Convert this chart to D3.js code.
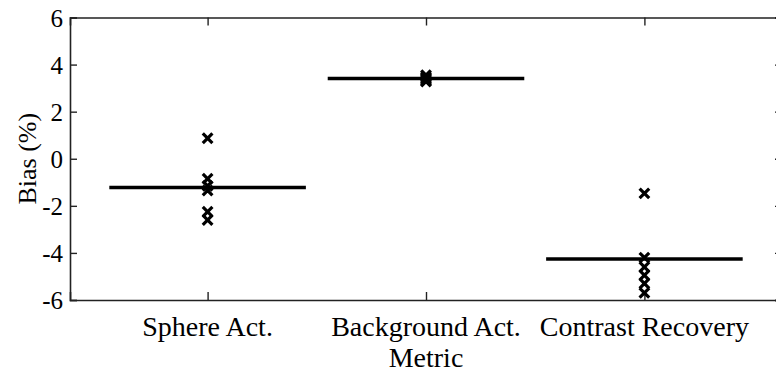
<!DOCTYPE html>
<html>
<head>
<meta charset="utf-8">
<script src="https://cdn.jsdelivr.net/npm/d3@7"></script>
<style>
  body { margin: 0; background: #fff; }
  svg text { font-family: "Liberation Serif", "Times New Roman", serif; fill: #000; }
  .ylab text { font-size: 25px; }
</style>
</head>
<body>
<svg width="776" height="378"></svg>
<script>
// metrics along the x axis
const categories = ["Sphere Act.", "Background Act.", "Contrast Recovery"];
// individual bias values (%) per metric
const sphereBias = [0.87, -0.85, -1.15, -1.35, -2.25, -2.6];
const backgroundBias = [3.55, 3.48, 3.42, 3.37, 3.32, 3.28];
const contrastBias = [-1.47, -4.2, -4.6, -4.95, -5.3, -5.7];
// mean bias lines
const meanBias = [-1.22, 3.41, -4.26];
const yTicks = [-6, -4, -2, 0, 2, 4, 6];

let svg = d3.select("svg");

let x = d3.scaleLinear().domain([0.37, 3.63]).range([70, 782]);
let y = d3.scaleLinear().domain([-6, 6]).range([300, 17.5]);

const points = [sphereBias, backgroundBias, contrastBias].flatMap((vals, i) =>
	vals.map(v => ({ cat: i + 1, value: v })));

// axes, ticks inward like a MATLAB box
const axisColor = "#222";

svg.append("g")
	.attr("transform", "translate(0," + y(-6) + ")")
	.call(d3.axisBottom(x).tickValues([1, 2, 3]).tickSize(-8).tickFormat(""))
	.call(g => g.select(".domain").attr("stroke", axisColor).attr("stroke-width", 1.6));

svg.append("g")
	.attr("transform", "translate(0," + y(6) + ")")
	.call(d3.axisTop(x).tickValues([1, 2, 3]).tickSize(-8).tickFormat(""))
	.call(g => g.select(".domain").attr("stroke", axisColor).attr("stroke-width", 1.6));

let yAxis = svg.append("g")
	.attr("class", "ylab")
	.attr("transform", "translate(" + x(0.37) + ",0)")
	.call(d3.axisLeft(y).tickValues(yTicks).tickSize(-7).tickPadding(7).tickFormat(d => String(d)))
	.attr("font-family", null)
	.attr("font-size", null);
yAxis.select(".domain").attr("stroke", axisColor).attr("stroke-width", 1.6);
yAxis.selectAll("text").attr("dy", "0.34em");

svg.append("g")
	.attr("transform", "translate(" + x(3.63) + ",0)")
	.call(d3.axisRight(y).tickValues(yTicks).tickSize(-7).tickFormat(""))
	.call(g => g.select(".domain").attr("stroke", axisColor).attr("stroke-width", 1.6));

svg.selectAll(".tick line").attr("stroke", axisColor).attr("stroke-width", 1.4);

// category labels
svg.append("g").selectAll("text")
	.data(categories)
	.enter().append("text")
	.attr("x", (d, i) => x(i + 1))
	.attr("y", 336)
	.attr("text-anchor", "middle")
	.style("font-size", "28px")
	.text(d => d);

svg.append("text")
	.attr("x", x(2))
	.attr("y", 367)
	.attr("text-anchor", "middle")
	.style("font-size", "28px")
	.text("Metric");

svg.append("text")
	.attr("transform", "translate(36," + y(0) + ") rotate(-90)")
	.attr("text-anchor", "middle")
	.style("font-size", "26px")
	.text("Bias (%)");

// mean lines
svg.append("g").selectAll("line")
	.data(meanBias)
	.enter().append("line")
	.attr("x1", (d, i) => x(i + 1 - 0.45))
	.attr("x2", (d, i) => x(i + 1 + 0.45))
	.attr("y1", d => y(d))
	.attr("y2", d => y(d))
	.attr("stroke", "#000")
	.attr("stroke-width", 3.5);

// individual points as crosses
svg.append("g").selectAll("path")
	.data(points)
	.enter().append("path")
	.attr("d", d3.symbol(d3.symbolX).size(62))
	.attr("transform", d => "translate(" + x(d.cat) + "," + y(d.value) + ")")
	.attr("fill", "none")
	.attr("stroke", "#000")
	.attr("stroke-width", 3.2);
</script>
</body>
</html>
